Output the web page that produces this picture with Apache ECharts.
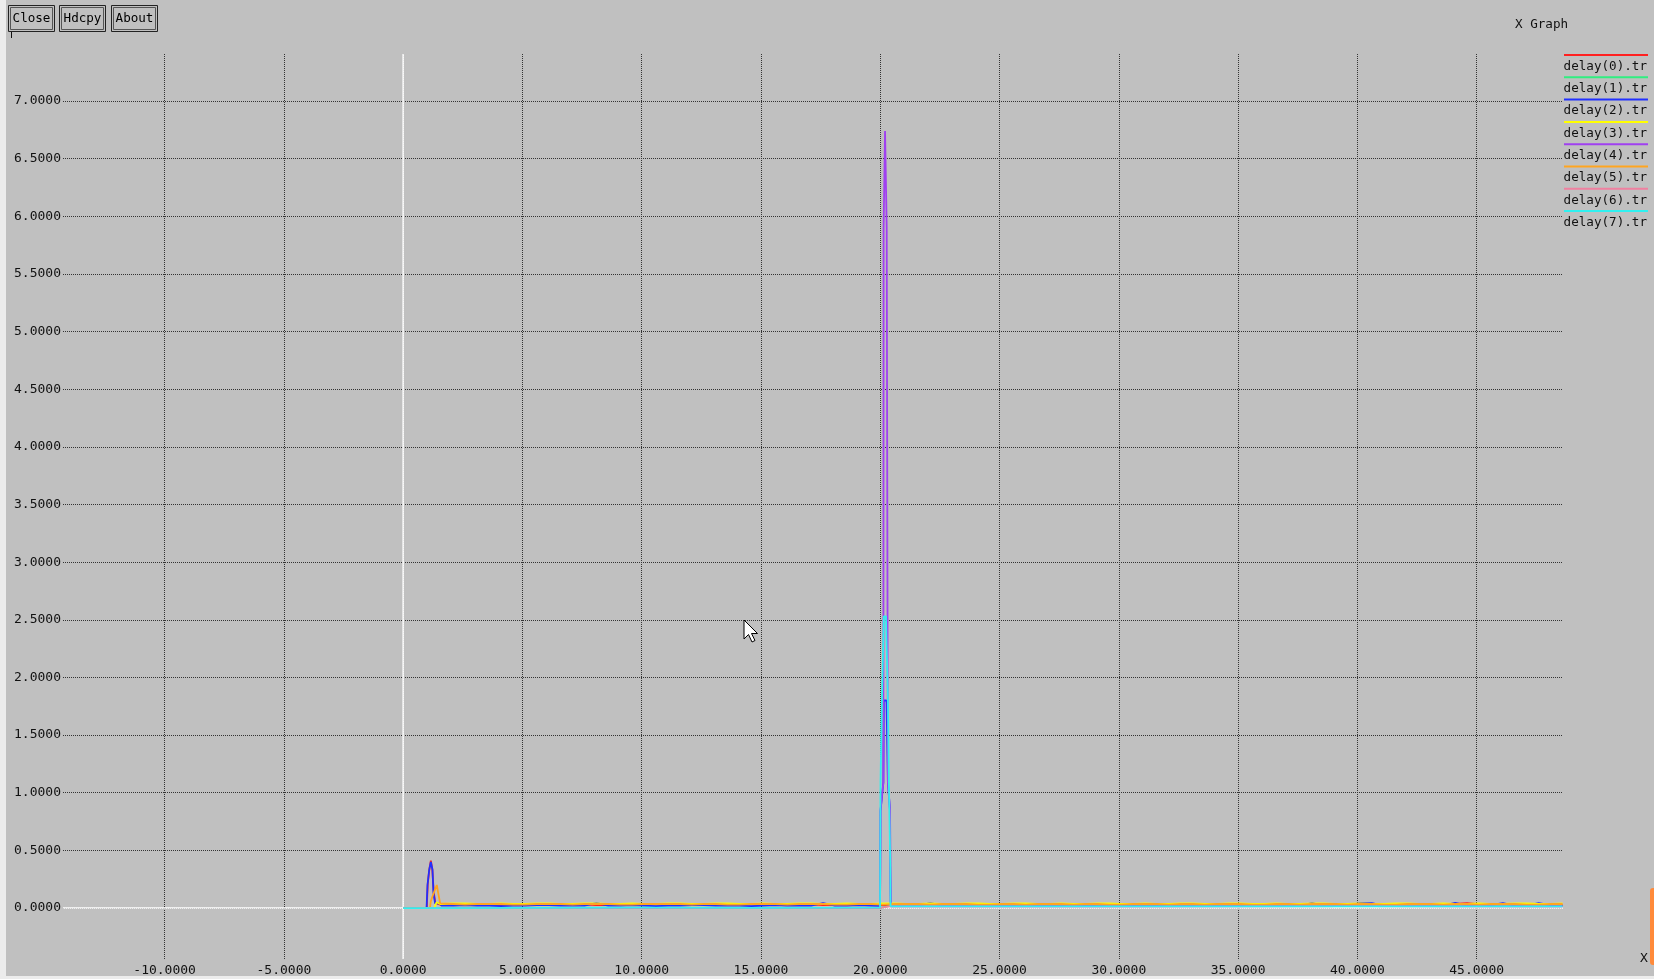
<!DOCTYPE html>
<html>
<head>
<meta charset="utf-8">
<title>X Graph</title>
<script src="https://cdn.jsdelivr.net/npm/echarts@6/dist/echarts.min.js"></script>
<style>
html, body { margin: 0; padding: 0; background: #c0c0c0; overflow: hidden; }
#main { width: 1654px; height: 979px; }
</style>
</head>
<body>
<div id="main"></div>
<script>
var seriesNames = ['delay(0).tr', 'delay(1).tr', 'delay(2).tr', 'delay(3).tr',
                   'delay(4).tr', 'delay(5).tr', 'delay(6).tr', 'delay(7).tr'];
var seriesColors = ['#ff2020', '#30ee80', '#2030ff', '#ffff00',
                    '#a040f0', '#ffa520', '#f080a0', '#30f0f0'];
var buttonLabels = ['Close', 'Hdcpy', 'About'];

var xMin = -14.26, xMax = 48.62;
var yMin = -0.442, yMax = 7.407;

// early burst near t = 1
var redHead    = [[0, 0], [0.99, 0], [1.03, 0.21], [1.10, 0.34], [1.16, 0.41], [1.22, 0.34], [1.28, 0.14], [1.35, 0.045]];
var blueHead   = [[0, 0], [0.98, 0], [1.02, 0.20], [1.09, 0.33], [1.16, 0.40], [1.23, 0.33], [1.27, 0.13], [1.34, 0.04], [1.55, 0.04]];
var yellowHead = [[0, 0], [1.30, 0], [1.40, 0.05], [1.55, 0.035]];
var orangeHead = [[0, 0], [1.12, 0], [1.16, 0.06], [1.26, 0.12], [1.41, 0.20], [1.47, 0.13], [1.55, 0.04]];

// the big spike near t = 20
var blueSpike   = [[19.99, 0.02], [20.00, 0.37], [20.01, 0.84], [20.13, 1.09], [20.15, 1.80], [20.26, 1.80],
                   [20.32, 1.09], [20.41, 0.84], [20.42, 0.37], [20.44, 0.02]];
var purpleSpike = [[19.99, 0.002], [20.00, 0.36], [20.01, 0.85], [20.13, 1.09], [20.14, 5.90], [20.20, 6.74],
                   [20.27, 5.90], [20.32, 1.09], [20.41, 0.85], [20.42, 0.36], [20.44, 0.015]];
var cyanSpike   = [[19.99, 0.003], [20.01, 0.003], [20.01, 1.09], [20.07, 1.81], [20.15, 2.53], [20.24, 2.53],
                   [20.32, 1.81], [20.36, 1.09], [20.42, 0.37], [20.43, 0.015]];

// sparse traces that stay at the floor
var greenTrace  = [[0, 0], [10, 0.002], [20.0, 0.002], [20.45, 0.020], [30, 0.019], [40, 0.020], [48.6, 0.019]];
var purpleLow   = [[0, 0], [10, 0.002], [30, 0.015], [40, 0.016], [48.6, 0.015]];
var pinkTrace   = [[0, 0], [10, 0.002], [20.0, 0.002], [20.45, 0.016], [30, 0.015], [40, 0.016], [48.6, 0.015]];
var cyanLow     = [[0, 0], [5, 0.002], [10, 0.003], [15, 0.002], [30, 0.015], [40, 0.014], [48.6, 0.015]];

// floor samples, one every 0.5 from t = 1.6
var baseStart = 1.6, baseStep = 0.5;
var redBase = [
  0.026, 0.026, 0.032, 0.032, 0.026, 0.026, 0.026, 0.033, 0.026, 0.026,
  0.026, 0.032, 0.032, 0.026, 0.026, 0.026, 0.026, 0.033, 0.033, 0.026,
  0.026, 0.026, 0.032, 0.026, 0.026, 0.033, 0.033, 0.026, 0.026, 0.026,
  0.032, 0.032, 0.026, 0.026, 0.026, 0.026, 0.033, 0.026, 0.026, 0.026,
  0.026, 0.032, 0.032, 0.026, 0.026, 0.026, 0.033, 0.033, 0.026, 0.026,
  0.026, 0.026, 0.032, 0.026, 0.026, 0.026, 0.033, 0.033, 0.026, 0.026,
  0.032, 0.026, 0.026, 0.026, 0.033, 0.033, 0.026, 0.026, 0.026, 0.032,
  0.026, 0.026, 0.026, 0.033, 0.026, 0.026, 0.032, 0.032, 0.026, 0.026,
  0.026, 0.033, 0.026, 0.026, 0.026, 0.036, 0.043, 0.033, 0.026, 0.026,
  0.026, 0.032, 0.026, 0.026, 0.026
];
var blueBase = [
  0.021, 0.021, 0.026, 0.021, 0.021, 0.017, 0.021, 0.021, 0.026, 0.026,
  0.021, 0.021, 0.021, 0.042, 0.021, 0.021, 0.026, 0.021, 0.017, 0.021,
  0.021, 0.026, 0.026, 0.021, 0.021, 0.021, 0.017, 0.021, 0.026, 0.021,
  0.021, 0.021, 0.042, 0.021, 0.021, 0.026, 0.021, 0.021, 0.021, 0.017,
  0.021, 0.042, 0.021, 0.026, 0.026, 0.021, 0.021, 0.017, 0.021, 0.021,
  0.026, 0.021, 0.021, 0.021, 0.026, 0.017, 0.021, 0.021, 0.026, 0.026,
  0.021, 0.021, 0.017, 0.021, 0.026, 0.021, 0.021, 0.021, 0.026, 0.021,
  0.021, 0.017, 0.021, 0.042, 0.021, 0.026, 0.021, 0.042, 0.043, 0.021,
  0.021, 0.026, 0.021, 0.017, 0.021, 0.045, 0.021, 0.021, 0.026, 0.042,
  0.021, 0.021, 0.042, 0.026, 0.021
];
var yellowBase = [
  0.035, 0.040, 0.040, 0.035, 0.035, 0.041, 0.035, 0.035, 0.040, 0.040,
  0.035, 0.035, 0.041, 0.041, 0.035, 0.035, 0.040, 0.035, 0.035, 0.041,
  0.041, 0.035, 0.035, 0.040, 0.040, 0.035, 0.035, 0.041, 0.035, 0.035,
  0.040, 0.040, 0.035, 0.035, 0.041, 0.035, 0.035, 0.040, 0.040, 0.035,
  0.035, 0.041, 0.035, 0.035, 0.040, 0.040, 0.035, 0.035, 0.041, 0.041,
  0.035, 0.035, 0.040, 0.035, 0.035, 0.041, 0.041, 0.035, 0.035, 0.040,
  0.035, 0.035, 0.041, 0.041, 0.035, 0.035, 0.040, 0.040, 0.035, 0.035,
  0.041, 0.035, 0.035, 0.040, 0.040, 0.035, 0.035, 0.041, 0.035, 0.035,
  0.040, 0.040, 0.035, 0.035, 0.041, 0.035, 0.035, 0.040, 0.035, 0.035,
  0.041, 0.041, 0.035, 0.035, 0.040
];
var orangeBase = [
  0.035, 0.035, 0.030, 0.035, 0.035, 0.035, 0.030, 0.030, 0.035, 0.035,
  0.035, 0.030, 0.035, 0.035, 0.035, 0.030, 0.030, 0.035, 0.035, 0.035,
  0.035, 0.030, 0.035, 0.035, 0.030, 0.030, 0.035, 0.035, 0.035, 0.030,
  0.035, 0.035, 0.035, 0.030, 0.030, 0.035, 0.035, 0.030, 0.035, 0.035,
  0.035, 0.030, 0.035, 0.035, 0.035, 0.030, 0.030, 0.035, 0.035, 0.030,
  0.035, 0.035, 0.035, 0.030, 0.035, 0.035, 0.030, 0.030, 0.035, 0.035,
  0.035, 0.030, 0.035, 0.035, 0.030, 0.035, 0.035, 0.035, 0.030, 0.030,
  0.035, 0.035, 0.030, 0.035, 0.035, 0.035, 0.030, 0.035, 0.035, 0.030,
  0.030, 0.035, 0.035, 0.035, 0.030, 0.035, 0.035, 0.030, 0.035, 0.035,
  0.035, 0.030, 0.030, 0.035, 0.035
];

function sampled(base) {
  return base.map(function (v, i) { return [baseStart + i * baseStep, v]; });
}
function merge(parts, gap) {
  var pts = [];
  parts.forEach(function (p) { pts = pts.concat(p); });
  if (gap) {
    pts = pts.filter(function (p) { return p[2] || !(p[0] > gap[0] && p[0] < gap[1]); });
  }
  return pts.sort(function (a, b) { return a[0] - b[0]; });
}
function tag(pts) { return pts.map(function (p) { return [p[0], p[1], 1]; }); }

var spikeGap = [19.95, 20.47];
var seriesData = [
  merge([redHead, sampled(redBase)]),
  greenTrace,
  merge([blueHead, sampled(blueBase), tag(blueSpike)], spikeGap),
  merge([yellowHead, sampled(yellowBase)]),
  merge([purpleLow, tag(purpleSpike)], spikeGap),
  merge([orangeHead, sampled(orangeBase)]),
  pinkTrace,
  merge([cyanLow, tag(cyanSpike)], spikeGap)
];

var chartDom = document.getElementById('main');
var myChart = echarts.init(chartDom, null, { renderer: 'canvas' });
var monoFont = '"DejaVu Sans Mono", "Liberation Mono", monospace';

var graphics = [
  { type: 'rect', shape: { x: 0, y: 0, width: 6, height: 979 }, style: { fill: '#ececec' }, silent: true },
  { type: 'rect', shape: { x: 0, y: 976, width: 1654, height: 3 }, style: { fill: '#ececec' }, silent: true },
  { type: 'rect', shape: { x: 1650, y: 888, width: 6, height: 77, r: 3 }, style: { fill: '#ff8a3a' }, silent: true },
  { type: 'text', style: { text: 'X Graph', x: 1515, y: 25, fill: '#111', fontSize: 12.6, fontFamily: monoFont, verticalAlign: 'middle' } },
  { type: 'text', style: { text: 'X', x: 1644, y: 959, fill: '#111', fontSize: 13, fontFamily: monoFont, align: 'center', verticalAlign: 'middle' } },
  { type: 'line', shape: { x1: 11.5, y1: 31, x2: 11.5, y2: 38 }, style: { stroke: '#111', lineWidth: 1 } },
  { type: 'polygon', shape: { points: [[744, 620], [744, 639], [748.5, 634.5], [752, 642], [755, 640.5], [751.5, 633.5], [757.5, 633.5]] },
    style: { fill: '#ffffff', stroke: '#000', lineWidth: 1 }, silent: true }
];
var buttonX = [8, 59, 111];
buttonLabels.forEach(function (b, i) {
  graphics.push({ type: 'rect', shape: { x: buttonX[i] + 0.5, y: 5.5, width: 46, height: 26 }, style: { fill: 'none', stroke: '#222', lineWidth: 1 } });
  graphics.push({ type: 'rect', shape: { x: buttonX[i] + 2.5, y: 7.5, width: 42, height: 22 }, style: { fill: 'none', stroke: '#555', lineWidth: 1 } });
  graphics.push({ type: 'text', style: { text: b, x: buttonX[i] + 23.5, y: 18.5, fill: '#000', fontSize: 12.6, fontFamily: monoFont, align: 'center', verticalAlign: 'middle' } });
});
seriesNames.forEach(function (n, i) {
  graphics.push({ type: 'line', shape: { x1: 1564, y1: 55 + i * 22.3, x2: 1648, y2: 55 + i * 22.3 }, style: { stroke: seriesColors[i], lineWidth: 2 } });
  graphics.push({ type: 'text', style: { text: n, x: 1647, y: 66.5 + i * 22.3, fill: '#111', fontSize: 12.6, fontFamily: monoFont, align: 'right', verticalAlign: 'middle' } });
});

var gridLine = { show: true, showMinLine: false, showMaxLine: false, lineStyle: { color: '#333', type: [1, 1], width: 1 } };

var option = {
  backgroundColor: '#c0c0c0',
  animation: false,
  grid: { left: 63, right: 91, top: 54, bottom: 20, containLabel: false, outerBoundsMode: 'none' },
  xAxis: {
    type: 'value', min: xMin, max: xMax, minInterval: 5, maxInterval: 5, splitNumber: 13,
    axisLine: { show: false }, axisTick: { show: false },
    axisLabel: { showMinLabel: false, showMaxLabel: false, margin: 5, color: '#111', fontSize: 13, fontFamily: monoFont,
      formatter: function (v) { return v.toFixed(4); } },
    splitLine: gridLine
  },
  yAxis: {
    type: 'value', min: yMin, max: yMax, minInterval: 0.5, maxInterval: 0.5, splitNumber: 16,
    axisLine: { show: false }, axisTick: { show: false },
    axisLabel: { showMinLabel: false, showMaxLabel: false, margin: 2, color: '#111', fontSize: 13, fontFamily: monoFont,
      formatter: function (v) { return Math.abs(v) < 1e-9 ? '0.0000' : v.toFixed(4); } },
    splitLine: gridLine
  },
  graphic: graphics,
  series: [
    { type: 'line', name: 'zeroX', data: [[xMin, 0], [xMax, 0]], symbol: 'none', silent: true, z: 1,
      lineStyle: { color: '#ffffff', width: 1.5 } },
    { type: 'line', name: 'zeroY', data: [[0, yMin], [0, yMax]], symbol: 'none', silent: true, z: 1,
      lineStyle: { color: '#ffffff', width: 1.5 } }
  ].concat(seriesNames.map(function (n, i) {
    return {
      type: 'line', name: n, data: seriesData[i], symbol: 'none', showSymbol: false, silent: true, clip: true, z: 2,
      lineStyle: { color: seriesColors[i], width: 1.8 }
    };
  }))
};

myChart.setOption(option);
</script>
</body>
</html>
